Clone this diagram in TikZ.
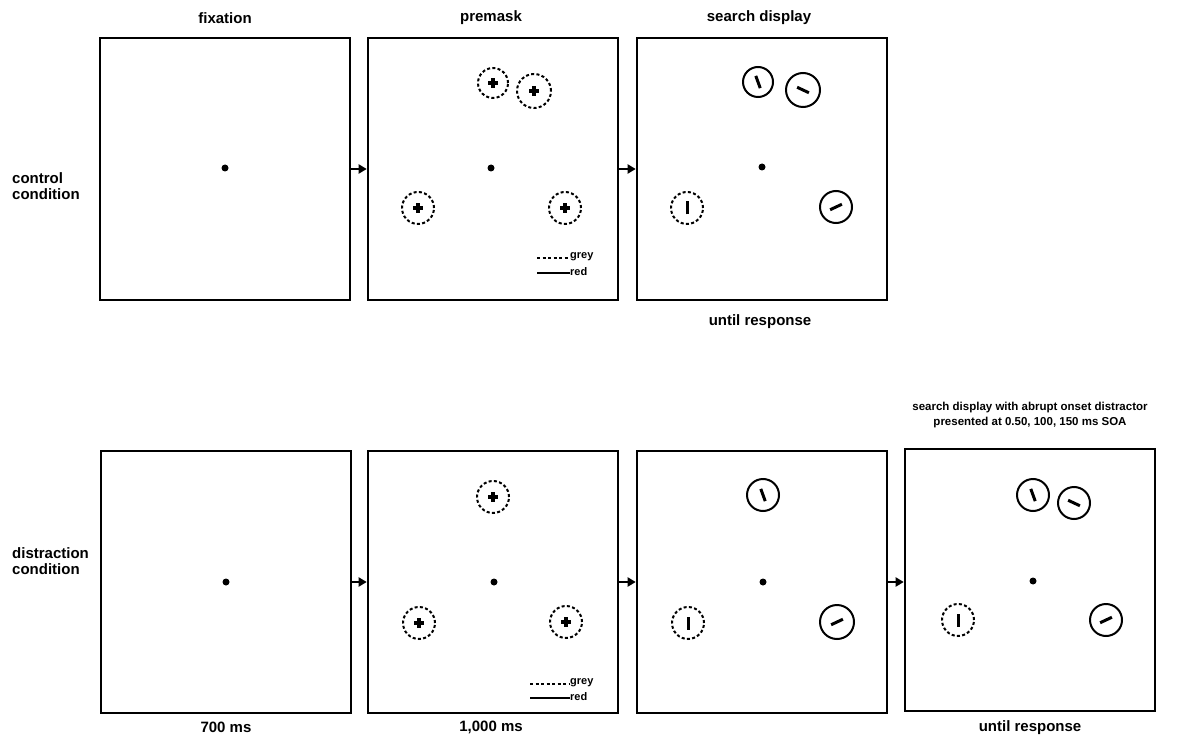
\documentclass[tikz,border=0pt]{standalone}
\usepackage{fontspec}
\setmainfont{Liberation Sans}
\usetikzlibrary{arrows.meta,calc}
\tikzset{
  frame/.style={draw,line width=2.6pt,minimum width=250pt,minimum height=262pt,inner sep=0pt},
  lbl/.style={font=\fontsize{15}{16.5}\bfseries\selectfont,inner sep=0pt,align=center},
  lbls/.style={font=\fontsize{11.5}{15.5}\bfseries\selectfont,inner sep=0pt,align=center},
  lbll/.style={font=\fontsize{15}{16.5}\bfseries\selectfont,inner sep=0pt,align=left,anchor=west},
  leg/.style={font=\fontsize{11}{12}\bfseries\selectfont,inner sep=0pt,anchor=west},
  dotf/.style={circle,fill,inner sep=0pt,minimum size=7pt},
  ring/.style={circle,draw,line width=2pt,inner sep=0pt,minimum size=#1},
  ring/.default=32pt,
  dring/.style={ring=#1,dash pattern=on 3pt off 2.3pt},
  dring/.default=32pt,
  crossl/.style={line width=3.4pt},
  barl/.style={line width=3pt},
  arr/.style={line width=2.2pt,-{Triangle[length=8pt,width=9pt]}},
}
\newcommand{\crossat}[1]{\draw[crossl] ($(#1)+(-4.6,0)$) -- ($(#1)+(4.6,0)$) ($(#1)+(0,-4.6)$) -- ($(#1)+(0,4.6)$);}
\newcommand{\barat}[2]{\draw[barl] ($(#1)+(#2:6.5)$) -- ($(#1)+(#2+180:6.5)$);}
\begin{document}
\begin{tikzpicture}[x=1pt,y=-1pt]
\useasboundingbox (0,0) rectangle (1190,735);
% ---------- top row ----------
\node[frame] (t1) at (225,169) {};
\node[frame] (t2) at (493,169) {};
\node[frame] (t3) at (762,169) {};
\node[lbl] (lt1) at (225,18) {fixation};
\node[lbl] (lt2) at (491,18) {premask};
\node[lbl] (lt3) at (759,18) {search display};
\node[lbl] (lt4) at (760,322) {until response};
\node[lbll] (lc) at (12,186) {control\\condition};
\draw[arr] (t1.east) -- (t2.west);
\draw[arr] (t2.east) -- (t3.west);
% fixation
\node[dotf] (tf1) at (225,168) {};
% premask
\node[dotf] (tf2) at (491,168) {};
\node[dring=30pt] (tp1) at (493,83) {};
\node[dring=34pt] (tp2) at (534,91) {};
\node[dring] (tp3) at (418,208) {};
\node[dring] (tp4) at (565,208) {};
\crossat{tp1}\crossat{tp2}\crossat{tp3}\crossat{tp4}
\coordinate (tlg1) at (537,258);
\coordinate (tlg2) at (537,273);
\node[leg] (tlgt1) at (570,257) {grey};
\node[leg] (tlgt2) at (570,272) {red};
\draw[line width=1.6pt,dash pattern=on 3pt off 2.5pt] (tlg1) -- (tlgt1.west |- tlg1);
\draw[line width=1.6pt] (tlg2) -- (tlgt2.west |- tlg2);
% search display
\node[dotf] (tf3) at (762,167) {};
\node[ring=30pt] (ts1) at (758,82) {};
\node[ring=34pt] (ts2) at (803,90) {};
\node[dring] (ts3) at (687,208) {};
\node[ring] (ts4) at (836,207) {};
\barat{ts1}{70}\barat{ts2}{25}\barat{ts3}{90}\barat{ts4}{-25}
% ---------- bottom row ----------
\node[frame] (b1) at (226,582) {};
\node[frame] (b2) at (493,582) {};
\node[frame] (b3) at (762,582) {};
\node[frame] (b4) at (1030,580) {};
\node[lbl] (lb1) at (226,727) {700 ms};
\node[lbl] (lb2) at (491,727) {1,000 ms};
\node[lbl] (lb4) at (1030,728) {until response};
\node[lbls] (lb5) at (1030,415) {search display with abrupt onset distractor\\presented at 0.50, 100, 150 ms SOA};
\node[lbll] (ld) at (12,561) {distraction\\condition};
\draw[arr] (b1.east) -- (b2.west);
\draw[arr] (b2.east) -- (b3.west);
\draw[arr] (b3.east) -- (b4.west |- b3.east);
% fixation
\node[dotf] (bf1) at (226,582) {};
% premask
\node[dotf] (bf2) at (494,582) {};
\node[dring] (bp1) at (493,497) {};
\node[dring] (bp2) at (419,623) {};
\node[dring] (bp3) at (566,622) {};
\crossat{bp1}\crossat{bp2}\crossat{bp3}
\coordinate (blg1) at (530,684);
\coordinate (blg2) at (530,698);
\node[leg] (blgt1) at (570,683) {grey};
\node[leg] (blgt2) at (570,697) {red};
\draw[line width=1.6pt,dash pattern=on 3pt off 2.5pt] (blg1) -- (blgt1.west |- blg1);
\draw[line width=1.6pt] (blg2) -- (blgt2.west |- blg2);
% search display (panel 3)
\node[dotf] (bf3) at (763,582) {};
\node[ring] (bs1) at (763,495) {};
\node[dring] (bs2) at (688,623) {};
\node[ring=34pt] (bs3) at (837,622) {};
\barat{bs1}{70}\barat{bs2}{90}\barat{bs3}{-25}
% search display with distractor (panel 4)
\node[dotf] (bf4) at (1033,581) {};
\node[ring] (bd1) at (1033,495) {};
\node[ring] (bd2) at (1074,503) {};
\node[dring] (bd3) at (958,620) {};
\node[ring] (bd4) at (1106,620) {};
\barat{bd1}{70}\barat{bd2}{25}\barat{bd3}{90}\barat{bd4}{-25}
\end{tikzpicture}
\end{document}
